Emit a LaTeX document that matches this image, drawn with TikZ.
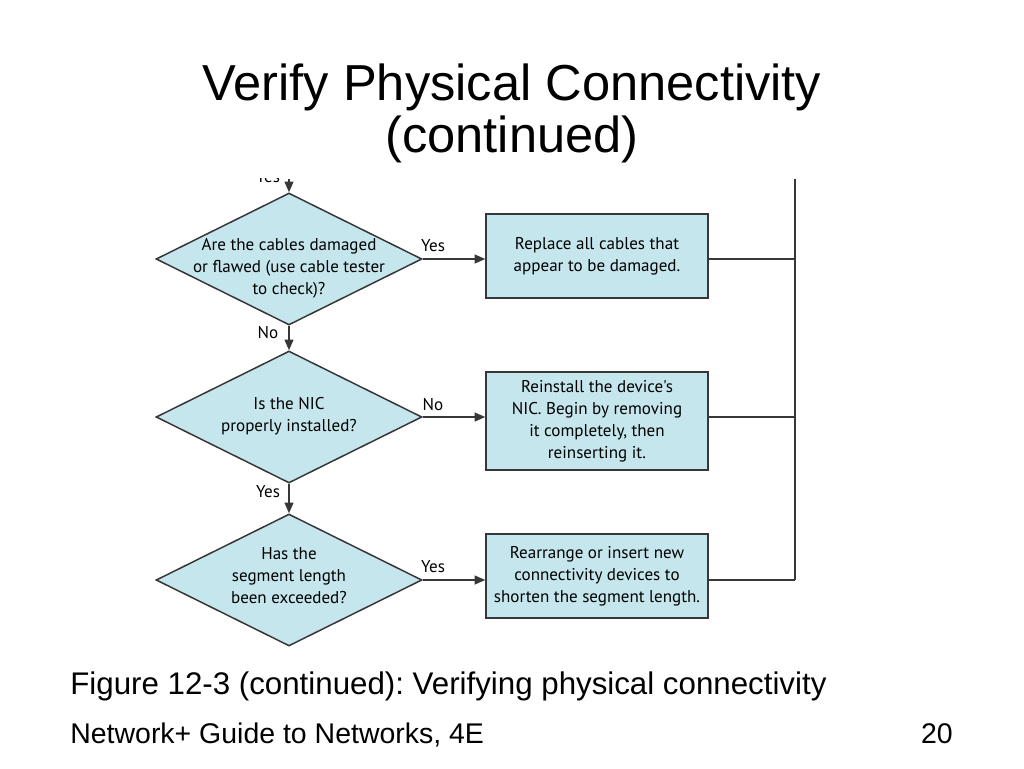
\documentclass[tikz,border=0pt]{standalone}
\usepackage{fontspec}
\setmainfont{Liberation Sans}
\newfontfamily\figfont{PT Sans}
\usetikzlibrary{shapes.geometric}
\usetikzlibrary{arrows.meta}
\usetikzlibrary{calc}
\definecolor{boxblue}{RGB}{197,230,237}
\definecolor{linegray}{RGB}{55,55,55}
\newcommand\figtext{\figfont\fontsize{9.7}{12.5}\selectfont}
\frenchspacing

\begin{document}
\begin{tikzpicture}[x=0.02cm,y=-0.02cm,
                dec/.style={diamond,draw=linegray,line width=0.85pt,fill=boxblue,inner sep=0pt,
                    minimum width=5.32cm,minimum height=2.64cm},
                act/.style={rectangle,draw=linegray,line width=0.85pt,fill=boxblue,inner sep=0pt,
                    minimum width=4.44cm,align=center,font=\figtext},
                txt/.style={align=center,font=\figtext},
                lbl/.style={font=\figtext},
                flow/.style={draw=linegray,line width=0.85pt,-{Triangle[length=6pt,width=5pt]}},
                wire/.style={draw=linegray,line width=0.85pt}]
                \useasboundingbox (0,0) rectangle (1024,768);

                \node[anchor=base,inner sep=0pt,font=\fontsize{28.8}{30}\selectfont] (T1) at (512,100) {Verify Physical Connectivity};
                \node[anchor=base,inner sep=0pt,font=\fontsize{28.8}{30}\selectfont] (T2) at (512,152) {(continued)};

                \node[dec] (D1) at (289,259) {};
                \node[dec] (D2) at (289,417) {};
                \node[dec] (D3) at (289,580) {};

                \node[txt] (Q1) at (289,268) {Are the cables damaged\\or flawed (use cable tester\\to check)?};
                \node[txt] (Q2) at (289,416) {Is the NIC\\properly installed?};
                \node[txt] (Q3) at (289,576) {Has the\\segment length\\been exceeded?};

                \node[act,minimum height=1.68cm] (B1) at (597,256) {Replace all cables that\\appear to be damaged.};
                \node[act,minimum height=1.96cm] (B2) at (597,421) {Reinstall the device's\\NIC. Begin by removing\\it completely, then\\reinserting it.};
                \node[act,minimum height=1.68cm] (B3) at (597,576) {Rearrange or insert new\\connectivity devices to\\shorten the segment length.};

                \coordinate (IN) at (289,179);
                \coordinate (RT) at (795,179);
                \coordinate (RB) at (795,580);

                \begin{scope}
                \clip (0,178) rectangle (1024,768);
                \node[lbl,anchor=base] (Y0) at (268,182) {Yes};
                \end{scope}

                \draw[flow] (IN) -- (D1.north);
                \draw[flow] (D1.south) -- (D2.north);
                \draw[flow] (D2.south) -- (D3.north);
                \draw[flow] (D1.east) -- (D1.east -| B1.west);
                \draw[flow] (D2.east) -- (D2.east -| B2.west);
                \draw[flow] (D3.east) -- (D3.east -| B3.west);

                \draw[wire] (RT) -- (RB);
                \draw[wire] (D1 -| B1.east) -- (D1 -| RT);
                \draw[wire] (D2 -| B2.east) -- (D2 -| RT);
                \draw[wire] (D3 -| B3.east) -- (D3 -| RT);

                \node[lbl] (L1) at (433,246) {Yes};
                \node[lbl] (L2) at (268,333) {No};
                \node[lbl] (L3) at (433,405) {No};
                \node[lbl] (L4) at (268,492) {Yes};
                \node[lbl] (L5) at (433,567) {Yes};

                \node[anchor=base west,inner sep=0pt,font=\fontsize{17.8}{20}\selectfont] (CAP) at (70,694) {Figure 12-3 (continued): Verifying physical connectivity};
                \node[anchor=base west,inner sep=0pt,font=\fontsize{16.2}{18}\selectfont] (FT) at (70,743) {Network+ Guide to Networks, 4E};
                \node[anchor=base east,inner sep=0pt,font=\fontsize{16.2}{18}\selectfont] (PG) at (953,743) {20};
            \end{tikzpicture}
\end{document}
